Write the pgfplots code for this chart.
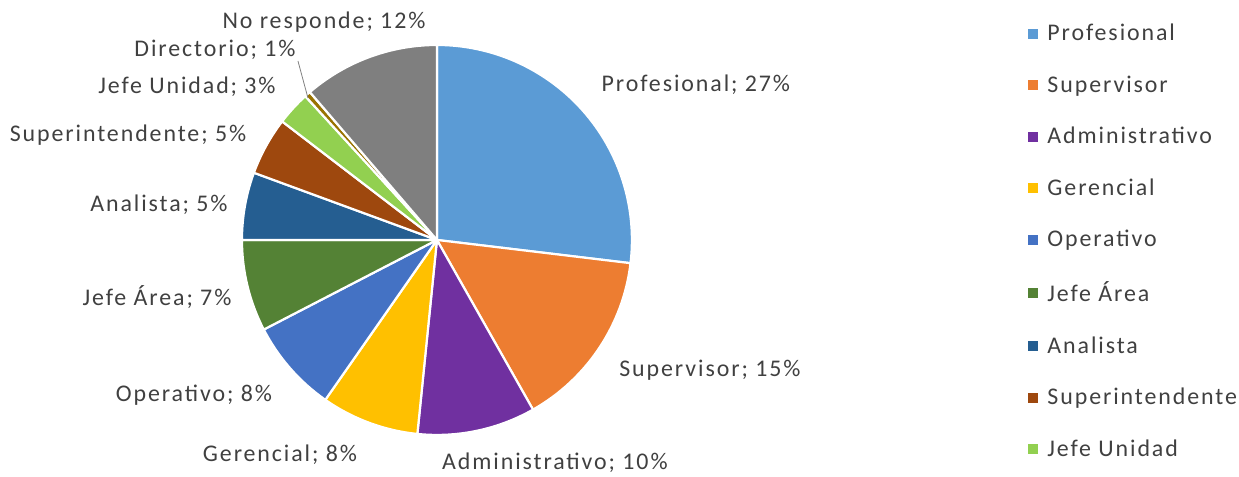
\documentclass[border=0pt]{standalone}
\usepackage{pgfplots}
\pgfplotsset{compat=1.18}
\usepackage{pgfplotstable}
\usepackage{fontspec}
\setmainfont{Carlito}[LetterSpace=8]

% slice colours, in pie order (clockwise from 12 o'clock)
\definecolor{pc0}{HTML}{5B9BD5}
\definecolor{pc1}{HTML}{ED7D31}
\definecolor{pc2}{HTML}{7030A0}
\definecolor{pc3}{HTML}{FFC000}
\definecolor{pc4}{HTML}{4472C4}
\definecolor{pc5}{HTML}{548235}
\definecolor{pc6}{HTML}{255E91}
\definecolor{pc7}{HTML}{9E480E}
\definecolor{pc8}{HTML}{92D050}
\definecolor{pc9}{HTML}{997300}
\definecolor{pc10}{HTML}{7F7F7F}
\definecolor{txt}{HTML}{404040}

% shares in percent
\pgfplotstableread{
value
26.9
14.9
9.8
8.1
7.7
7.6
5.6
4.8
2.8
0.5
11.3
}\piedata

% start / end angle of every slice
\def\cum{90}
\pgfplotsforeachungrouped \i in {0,...,10}{%
  \pgfplotstablegetelem{\i}{value}\of\piedata
  \pgfmathsetmacro\endang{\cum-3.6*\pgfplotsretval}%
  \expandafter\xdef\csname sa\i\endcsname{\cum}%
  \expandafter\xdef\csname ea\i\endcsname{\endang}%
  \xdef\cum{\endang}%
}

\begin{document}
\begin{tikzpicture}[font=\fontsize{24}{28}\selectfont, text=txt]
\begin{axis}[
    hide axis,
    scale only axis,
    x=1bp, y=1bp,
    xmin=0, xmax=1239,
    ymin=0, ymax=477,
    clip=false,
    legend image code/.code={\fill (0bp,-4.5bp) rectangle (9bp,4.5bp);},
    legend cell align=left,
    legend style={
        draw=none, fill=none,
        at={(axis cs:1028,455)}, anchor=north west,
        font=\fontsize{24}{28}\selectfont,
        text=txt,
        row sep=29.5bp,
        inner sep=0pt,
        /tikz/every odd column/.append style={column sep=8bp},
    },
]
% fixed page size
\path (axis cs:0,0) rectangle (axis cs:1239,477);

\pgfplotsinvokeforeach{0,...,10}{
  \filldraw[fill=pc#1, draw=white, line width=2.2bp, line join=round]
    (axis cs:437,237) -- ++(\csname sa#1\endcsname:195bp)
    arc[start angle=\csname sa#1\endcsname, end angle=\csname ea#1\endcsname, radius=195bp]
    -- cycle;
}

\addlegendimage{pc0}\addlegendentry{Profesional}
\addlegendimage{pc1}\addlegendentry{Supervisor}
\addlegendimage{pc2}\addlegendentry{Administrativo}
\addlegendimage{pc3}\addlegendentry{Gerencial}
\addlegendimage{pc4}\addlegendentry{Operativo}
\addlegendimage{pc5}\addlegendentry{Jefe Área}
\addlegendimage{pc6}\addlegendentry{Analista}
\addlegendimage{pc7}\addlegendentry{Superintendente}
\addlegendimage{pc8}\addlegendentry{Jefe Unidad}

% data labels
\node at (axis cs:696,392) {Profesional; 27\%};
\node at (axis cs:710,107) {Supervisor; 15\%};
\node at (axis cs:555,14) {Administrativo; 10\%};
\node at (axis cs:280,22) {Gerencial; 8\%};
\node at (axis cs:194,82) {Operativo; 8\%};
\node at (axis cs:157,180) {Jefe Área; 7\%};
\node at (axis cs:159,272) {Analista; 5\%};
\node at (axis cs:128,342) {Superintendente; 5\%};
\node at (axis cs:187,390) {Jefe Unidad; 3\%};
\node at (axis cs:215,427) {Directorio; 1\%};
\node at (axis cs:324,455) {No responde; 12\%};
\draw[gray, line width=0.8bp] (axis cs:298,416) -- (axis cs:308,379);
\end{axis}
\end{tikzpicture}
\end{document}
